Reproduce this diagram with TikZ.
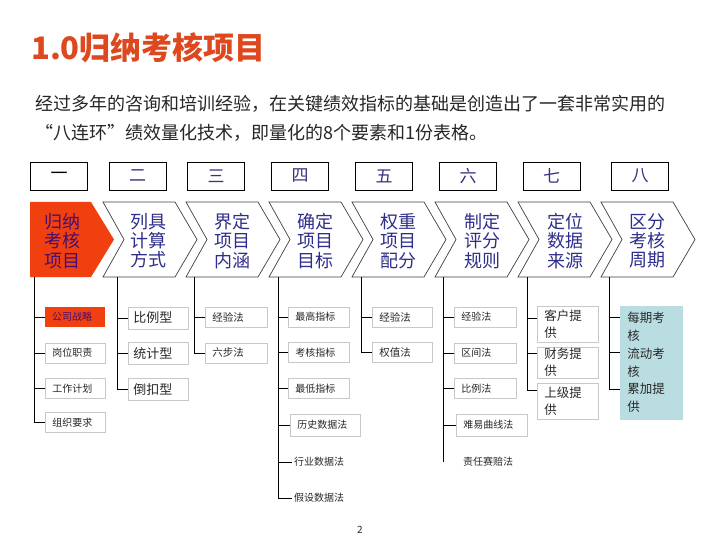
\documentclass[tikz,border=0pt]{standalone}
\usepackage{fontspec}
\setmainfont{Noto Sans CJK SC}
\usetikzlibrary{calc}
\definecolor{titlec}{RGB}{222,72,30}
\definecolor{bodyc}{RGB}{38,38,38}
\definecolor{numc}{RGB}{60,48,128}
\definecolor{chevc}{RGB}{46,46,140}
\definecolor{redfill}{RGB}{240,64,16}
\definecolor{purpletext}{RGB}{70,15,110}
\definecolor{boxc}{RGB}{200,200,200}
\definecolor{txtc}{RGB}{40,40,40}
\definecolor{tealc}{RGB}{185,221,224}
\begin{document}
\begin{tikzpicture}[x=1pt,y=-1pt,
  numbox/.style={draw=black, line width=0.8pt, minimum width=57pt, minimum height=28pt, inner sep=0pt, text=numc, font=\fontsize{17}{17}\selectfont},
  chevshape/.style={draw=black!75, line width=0.7pt, fill=white},
  chevtext/.style={align=center, text=chevc, font=\fontsize{18}{19.2}\selectfont, inner sep=0pt},
  sbox/.style={draw=boxc, fill=white, line width=0.7pt, anchor=west, inner ysep=0pt, inner xsep=7pt, text=txtc, align=left},
  smallbox/.style={sbox, minimum height=20pt, text width=#1, font=\fontsize{10}{10}\selectfont},
  midbox/.style={sbox, minimum height=22pt, inner xsep=5pt, text width=#1, font=\fontsize{13}{13}\selectfont},
  tallbox/.style={sbox, inner xsep=7pt, text width=47pt, font=\fontsize{12.5}{17}\selectfont, minimum height=#1},
  plaintext/.style={anchor=west, inner xsep=2pt, inner ysep=0pt, text=txtc, font=\fontsize{10}{10}\selectfont},
  trunk/.style={draw=black, line width=0.8pt}
]
\useasboundingbox (0,0) rectangle (720,540);
\fill[white] (0,0) rectangle (720,540);

% title and body
\node[anchor=west, inner sep=0pt, text=titlec, font=\fontsize{31}{31}\selectfont\bfseries] (title) at (31,48) {1.0归纳考核项目};
\node[anchor=west, inner sep=0pt, text=bodyc, font=\fontsize{18}{18}\selectfont] (body1) at (35,104) {经过多年的咨询和培训经验，在关键绩效指标的基础是创造出了一套非常实用的};
\node[anchor=west, inner sep=0pt, text=bodyc, font=\fontsize{18}{18}\selectfont] (body2) at (35,133) {“八连环”绩效量化技术，即量化的8个要素和1份表格。};

% number boxes
\node[numbox, text=black] (n1) at (59,176) {一};
\node[numbox] (n2) at (137.5,176) {二};
\node[numbox] (n3) at (216,176) {三};
\node[numbox] (n4) at (300,176) {四};
\node[numbox] (n5) at (384,176) {五};
\node[numbox] (n6) at (468,176) {六};
\node[numbox] (n7) at (551.5,176) {七};
\node[numbox] (n8) at (640,176) {八};

% chevrons
\path[fill=redfill] (30,202) -- (91,202) -- (114,239.5) -- (91,277) -- (30,277) -- cycle;
\foreach \L in {103,186,269,352,435,518,601}{
  \draw[chevshape] (\L,202) -- (\L+72,202) -- (\L+94,239.5) -- (\L+72,277) -- (\L,277) -- (\L+21,239.5) -- cycle;
}
\node[chevtext, text=purpletext] (c1) at (62,241) {归纳\\考核\\项目};
\node[chevtext] (c2) at (148,241) {列具\\计算\\方式};
\node[chevtext] (c3) at (232,241) {界定\\项目\\内涵};
\node[chevtext] (c4) at (315,241) {确定\\项目\\目标};
\node[chevtext] (c5) at (398,241) {权重\\项目\\配分};
\node[chevtext] (c6) at (482,241) {制定\\评分\\规则};
\node[chevtext] (c7) at (565,241) {定位\\数据\\来源};
\node[chevtext] (c8) at (647,241) {区分\\考核\\周期};

% trunk start points
\coordinate (t1) at (34,277);
\coordinate (t2) at (117,277);
\coordinate (t3) at (194,277);
\coordinate (t4) at (278,277);
\coordinate (t5) at (361,277);
\coordinate (t6) at (443,277);
\coordinate (t7) at (527,277);
\coordinate (t8) at (609,277);

% column 1
\fill[redfill] (45,307) rectangle (105,327);
\node[anchor=west, inner xsep=7pt, inner ysep=0pt, minimum height=20pt, text=purpletext, font=\fontsize{10}{10}\selectfont] (b11) at (45,317) {公司战略};
\node[smallbox=46pt] (b12) at (45,353) {岗位职责};
\node[smallbox=46pt] (b13) at (45,388.5) {工作计划};
\node[smallbox=46pt] (b14) at (45,422.5) {组织要求};
\foreach \b in {b11,b12,b13,b14}{ \draw[trunk] (t1) |- (\b.west); }

% column 2
\node[midbox=50pt] (b21) at (128,318) {比例型};
\node[midbox=50pt] (b22) at (128,353.5) {统计型};
\node[midbox=50pt] (b23) at (128,389.5) {倒扣型};
\foreach \b in {b21,b22,b23}{ \draw[trunk] (t2) |- (\b.west); }

% column 3
\node[smallbox=48pt, font=\fontsize{10.5}{10.5}\selectfont] (b31) at (205,317) {经验法};
\node[smallbox=48pt, font=\fontsize{10.5}{10.5}\selectfont] (b32) at (205,353) {六步法};
\foreach \b in {b31,b32}{ \draw[trunk] (t3) |- (\b.west); }

% column 4
\node[smallbox=47pt] (b41) at (288,317) {最高指标};
\node[smallbox=47pt] (b42) at (288,352.5) {考核指标};
\node[smallbox=47pt] (b43) at (288,388.5) {最低指标};
\node[smallbox=56pt, minimum height=22pt] (b44) at (290,425) {历史数据法};
\node[plaintext] (b45) at (292,462) {行业数据法};
\node[plaintext] (b46) at (292,498) {假设数据法};
\foreach \b in {b41,b42,b43,b44,b45,b46}{ \draw[trunk] (t4) |- (\b.west); }

% column 5
\node[smallbox=46pt, font=\fontsize{10.5}{10.5}\selectfont] (b51) at (372,317) {经验法};
\node[smallbox=46pt, font=\fontsize{10.5}{10.5}\selectfont] (b52) at (372,352.5) {权值法};
\foreach \b in {b51,b52}{ \draw[trunk] (t5) |- (\b.west); }

% column 6
\node[smallbox=48pt] (b61) at (454,317) {经验法};
\node[smallbox=48pt] (b62) at (454,353) {区间法};
\node[smallbox=48pt] (b63) at (454,388.5) {比例法};
\node[smallbox=57pt, minimum height=22pt] (b64) at (456,425) {难易曲线法};
\node[plaintext] (b65) at (461,462) {责任赛赔法};
\foreach \b in {b61,b62,b63,b64}{ \draw[trunk] (t6) |- (\b.west); }
\draw[trunk] (t6) -- (t6 |- b65.west);

% column 7
\node[tallbox=36pt] (b71) at (537,324) {客户提\\供};
\node[tallbox=31pt] (b72) at (537,362.5) {财务提\\供};
\node[tallbox=36pt] (b73) at (537,401) {上级提\\供};
\draw[trunk] (t7) |- ($(b71.west)+(0,-6)$);
\draw[trunk] (t7) |- ($(b72.west)+(0,-9.5)$);
\draw[trunk] (t7) |- ($(b73.west)+(0,-11)$);

% column 8
\node[sbox, fill=tealc, draw=tealc, inner xsep=7pt, text width=48pt, minimum height=113pt, font=\fontsize{12.5}{17.8}\selectfont] (b8) at (620,362.5) {每期考\\核\\流动考\\核\\累加提\\供};
\draw[trunk] (t8) |- ($(b8.north west)+(0,12)$);
\draw[trunk] (t8) |- ($(b8.north west)+(0,47)$);
\draw[trunk] (t8) |- ($(b8.north west)+(0,84)$);

% page number
\node[inner sep=0pt, text=txtc, font=\fontsize{10}{10}\selectfont] (pg) at (360,530) {2};
\end{tikzpicture}
\end{document}
